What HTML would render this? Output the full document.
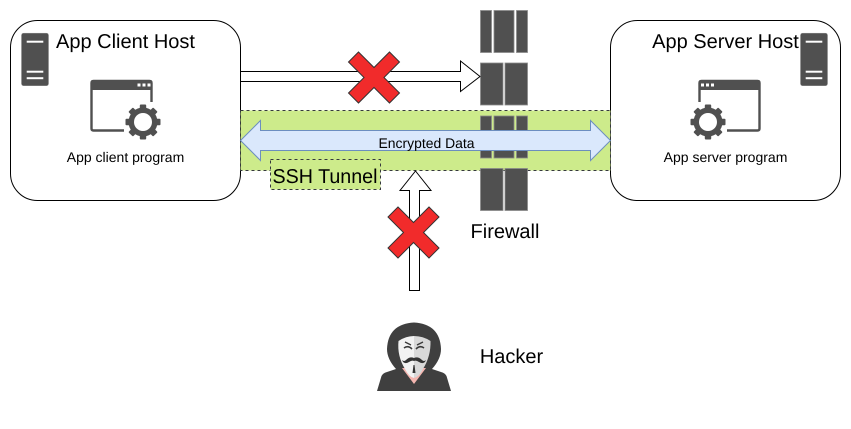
<!DOCTYPE html>
<html>
<head>
<meta charset="utf-8">
<style>
html,body{margin:0;padding:0;background:#fff;}
svg{display:block;}
text{font-family:"Liberation Sans",sans-serif;fill:#000;text-rendering:geometricPrecision;}
</style>
</head>
<body>
<svg width="851" height="429" viewBox="0 0 851 429" xmlns="http://www.w3.org/2000/svg">
<defs>
  <g id="gear">
    <g fill="#505050">
      <rect x="-3.2" y="-17.5" width="6.4" height="35" rx="1"/>
      <rect x="-3.2" y="-17.5" width="6.4" height="35" rx="1" transform="rotate(45)"/>
      <rect x="-3.2" y="-17.5" width="6.4" height="35" rx="1" transform="rotate(90)"/>
      <rect x="-3.2" y="-17.5" width="6.4" height="35" rx="1" transform="rotate(135)"/>
      <circle r="14.5"/>
    </g>
    <circle r="9" fill="#fff"/>
  </g>
  <g id="srv">
    <rect x="0" y="0" width="27" height="52.5" rx="2" fill="#505050" stroke="#8a8a8a" stroke-width=".5"/>
    <rect x="5.2" y="7.5" width="16.6" height="2" fill="#fff"/>
    <rect x="5.2" y="37.5" width="16.6" height="2" fill="#fff"/>
    <rect x="5.2" y="44" width="16.6" height="2" fill="#fff"/>
  </g>
  <path id="x" d="M-15.5 -25.5 L0 -10 L15.5 -25.5 L25.5 -15.5 L10 0 L25.5 15.5 L15.5 25.5 L0 10 L-15.5 25.5 L-25.5 15.5 L-10 0 L-25.5 -15.5 Z" fill="#f12b2b" stroke="#333" stroke-width="1"/>
</defs>

<!-- hosts -->
<rect x="10.5" y="20.5" width="230" height="180" rx="27" fill="#fff" stroke="#000"/>
<rect x="610.5" y="20.5" width="230" height="180" rx="27" fill="#fff" stroke="#000"/>

<!-- firewall -->
<g fill="#505050" stroke="#8a8a8a" stroke-width=".8">
  <rect x="480.5" y="10.5" width="11" height="42"/>
  <rect x="494" y="10.5" width="20" height="42"/>
  <rect x="516.5" y="10.5" width="11" height="42"/>
  <rect x="480.5" y="63" width="22.5" height="42"/>
  <rect x="505" y="63" width="22.5" height="42"/>
</g>

<!-- tunnel -->
<rect x="240.5" y="110.5" width="370" height="60" fill="#cdeb8b" stroke="#36393d" stroke-dasharray="3 3"/>
<g fill="#505050" stroke="#8a8a8a" stroke-width=".8">
  <rect x="480.5" y="116" width="11" height="42"/>
  <rect x="494" y="116" width="20" height="42"/>
  <rect x="516.5" y="116" width="11" height="42"/>
  <rect x="480.5" y="168.5" width="22.5" height="42"/>
  <rect x="505" y="168.5" width="22.5" height="42"/>
</g>

<!-- blue arrow -->
<path d="M240.5 140.5 L260.5 120.5 V130.5 H590.5 V120.5 L610.5 140.5 L590.5 160.5 V150.5 H260.5 V160.5 Z" fill="#dae8fc" stroke="#6c8ebf"/>
<text x="426.5" y="148" font-size="14" text-anchor="middle" textLength="96" lengthAdjust="spacingAndGlyphs">Encrypted Data</text>

<!-- ssh label -->
<rect x="270.5" y="159.5" width="110" height="30" fill="#cdeb8b" stroke="#36393d" stroke-dasharray="3 3"/>
<text x="272.5" y="183" font-size="20" textLength="105" lengthAdjust="spacingAndGlyphs">SSH Tunnel</text>

<!-- top arrow -->
<path d="M240.5 71.5 H460.5 V61 L480 76.5 L460.5 91.5 V81.5 H240.5 Z" fill="#fff" stroke="#000"/>
<use href="#x" x="374" y="77.5"/>

<!-- bottom arrow -->
<path d="M409.5 290.5 V190.5 H400 L415.5 171 L431 190.5 H419.5 V290.5 Z" fill="#fff" stroke="#000"/>
<use href="#x" x="413.5" y="232.5"/>

<!-- server icons -->
<use href="#srv" x="21.5" y="33.2"/>
<use href="#srv" x="800.5" y="33.2"/>

<!-- client app icon -->
<path d="M151.5 102 V83 Q151.5 81 149.5 81 H93.5 Q91.5 81 91.5 83 V128.5 Q91.5 130.5 93.5 130.5 H124" fill="none" stroke="#505050" stroke-width="2.4"/>
<path d="M91 83 Q91 80.3 93.5 80.3 H150 Q152.5 80.3 152.5 83 V90 H91 Z" fill="#505050"/>
<g fill="#fff"><rect x="137.5" y="83.5" width="3" height="3"/><rect x="142.5" y="83.5" width="3" height="3"/><rect x="147.5" y="83.5" width="3" height="3"/></g>
<use href="#gear" x="143" y="122"/>

<!-- server app icon -->
<path d="M699.5 102 V83 Q699.5 81 701.5 81 H757.5 Q759.5 81 759.5 83 V128.5 Q759.5 130.5 757.5 130.5 H727" fill="none" stroke="#505050" stroke-width="2.4"/>
<path d="M698.5 83 Q698.5 80.3 701 80.3 H757.5 Q760 80.3 760 83 V90 H698.5 Z" fill="#505050"/>
<g fill="#fff"><rect x="701" y="83.5" width="3" height="3"/><rect x="706" y="83.5" width="3" height="3"/><rect x="711" y="83.5" width="3" height="3"/></g>
<use href="#gear" x="708" y="122"/>

<!-- labels -->
<text x="125.5" y="48" font-size="20" text-anchor="middle">App Client Host</text>
<text x="725.5" y="48" font-size="20" text-anchor="middle">App Server Host</text>
<text x="125.5" y="162" font-size="14" text-anchor="middle">App client program</text>
<text x="725.5" y="162" font-size="14" text-anchor="middle">App server program</text>
<text x="505" y="238" font-size="20" text-anchor="middle">Firewall</text>
<text x="511.5" y="363" font-size="20" text-anchor="middle">Hacker</text>

<!-- hacker -->
<path d="M377 391 L381.5 376 Q383 373 387 372 L396 369 Q387 359 387 349 Q388 324 414 322.5 Q440 324 441 349 Q441 359 432 369 L441 372 Q445 373 446.5 376 L451 391 Z" fill="#3f3f3f"/>
<path d="M402 368 L414 384 L426 368 Z" fill="#f4b6b0"/>
<path d="M398.5 341 Q406 336 414 336 V378 Q409 377 405 369 Q397 356 398.5 341 Z" fill="#f2f2f2"/>
<path d="M414 336 Q423 336 430.5 341 Q431 356 423 369 Q419 377 414 378 Z" fill="#d9d9d9"/>
<path d="M405 342 L411 345 M423 342 L417 345" stroke="#3a3a3a" stroke-width="1.4" fill="none"/>
<path d="M404 348 Q408 345 412 349 M424 348 Q420 345 416 349" stroke="#3a3a3a" stroke-width="1.6" fill="none"/>
<path d="M402 360 Q404 362 406 360 Q410 356 414 358 Q418 356 422 360 Q424 362 426 360 Q424 365 419 362 Q416 360 414 361 Q412 360 409 362 Q404 365 402 360 Z" fill="#333"/>
<path d="M413.5 365 L414.5 365 L415.5 373 L412.5 373 Z" fill="#333"/>
</svg>
</body>
</html>
